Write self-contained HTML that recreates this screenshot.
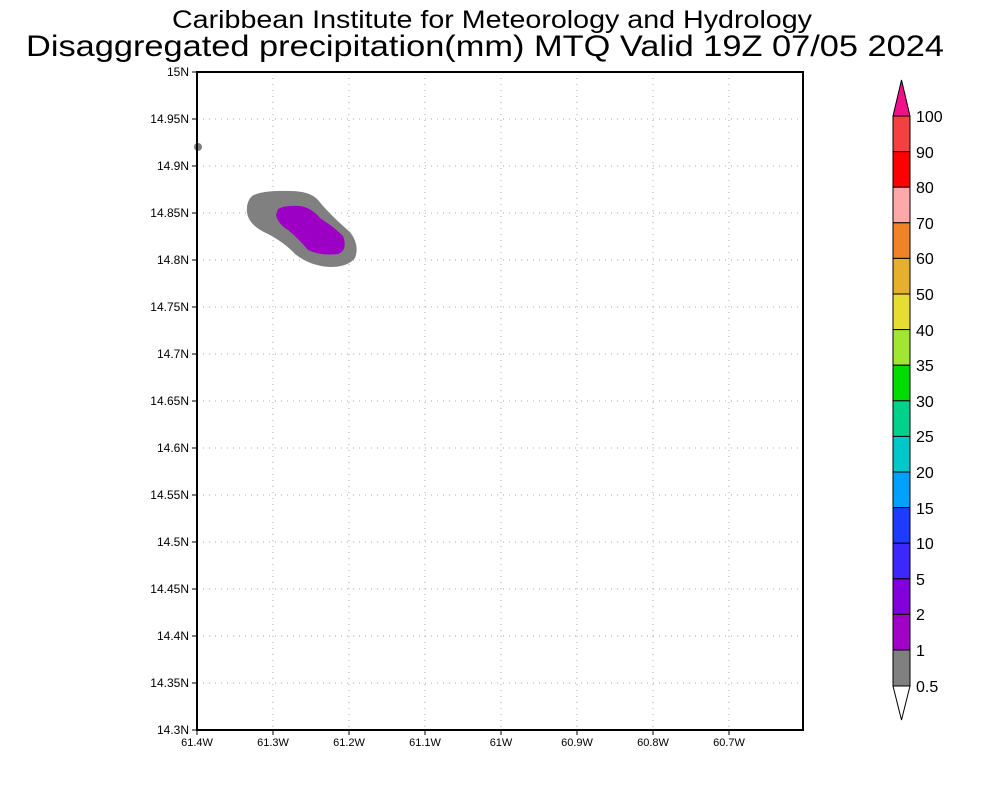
<!DOCTYPE html>
<html><head><style>body{margin:0;background:#fff}svg{display:block}</style></head><body>
<svg width="1000" height="800" xmlns="http://www.w3.org/2000/svg" font-family="Liberation Sans, sans-serif">
<rect width="1000" height="800" fill="#fff"/>
<text x="492" y="28" font-size="25" text-anchor="middle" textLength="640" lengthAdjust="spacingAndGlyphs">Caribbean Institute for Meteorology and Hydrology</text>
<text x="485" y="56" font-size="30" text-anchor="middle" textLength="918" lengthAdjust="spacingAndGlyphs">Disaggregated precipitation(mm) MTQ Valid 19Z 07/05 2024</text>
<!-- grid -->
<g stroke="#aaa" stroke-width="1" stroke-dasharray="1,5">
<line x1="273" y1="72" x2="273" y2="730"/><line x1="349" y1="72" x2="349" y2="730"/><line x1="425" y1="72" x2="425" y2="730"/><line x1="501" y1="72" x2="501" y2="730"/><line x1="577" y1="72" x2="577" y2="730"/><line x1="653" y1="72" x2="653" y2="730"/><line x1="729" y1="72" x2="729" y2="730"/>
<line x1="197" y1="119" x2="803" y2="119"/><line x1="197" y1="166" x2="803" y2="166"/><line x1="197" y1="213" x2="803" y2="213"/><line x1="197" y1="260" x2="803" y2="260"/><line x1="197" y1="307" x2="803" y2="307"/><line x1="197" y1="354" x2="803" y2="354"/><line x1="197" y1="401" x2="803" y2="401"/><line x1="197" y1="448" x2="803" y2="448"/><line x1="197" y1="495" x2="803" y2="495"/><line x1="197" y1="542" x2="803" y2="542"/><line x1="197" y1="589" x2="803" y2="589"/><line x1="197" y1="636" x2="803" y2="636"/><line x1="197" y1="683" x2="803" y2="683"/>
</g>
<!-- blobs -->
<circle cx="198" cy="147" r="4" fill="#808080"/>
<path d="M252,196 Q262,190 290,191 Q310,191 318,200 Q330,215 350,232 Q360,245 355,258 Q348,267 330,267 Q310,266 295,254 Q285,243 268,234 Q248,225 247,212 Q246,202 252,196 Z" fill="#808080"/>
<path d="M278,209 Q285,205 300,206 Q312,208 320,218 Q335,228 343,236 Q348,250 338,254 Q320,256 308,250 Q298,238 288,230 Q278,224 276,215 Z" fill="#9d00c4"/>
<rect x="197" y="72" width="606" height="658" fill="none" stroke="#000" stroke-width="2"/>
<g stroke="#000" stroke-width="1">
<line x1="192" y1="72" x2="197" y2="72"/><line x1="192" y1="119" x2="197" y2="119"/><line x1="192" y1="166" x2="197" y2="166"/><line x1="192" y1="213" x2="197" y2="213"/><line x1="192" y1="260" x2="197" y2="260"/><line x1="192" y1="307" x2="197" y2="307"/><line x1="192" y1="354" x2="197" y2="354"/><line x1="192" y1="401" x2="197" y2="401"/><line x1="192" y1="448" x2="197" y2="448"/><line x1="192" y1="495" x2="197" y2="495"/><line x1="192" y1="542" x2="197" y2="542"/><line x1="192" y1="589" x2="197" y2="589"/><line x1="192" y1="636" x2="197" y2="636"/><line x1="192" y1="683" x2="197" y2="683"/><line x1="192" y1="730" x2="197" y2="730"/>
<line x1="197" y1="730" x2="197" y2="735"/><line x1="273" y1="730" x2="273" y2="735"/><line x1="349" y1="730" x2="349" y2="735"/><line x1="425" y1="730" x2="425" y2="735"/><line x1="501" y1="730" x2="501" y2="735"/><line x1="577" y1="730" x2="577" y2="735"/><line x1="653" y1="730" x2="653" y2="735"/><line x1="729" y1="730" x2="729" y2="735"/>
</g>
<g font-size="12" text-anchor="end">
<text x="189" y="76">15N</text><text x="189" y="123">14.95N</text><text x="189" y="170">14.9N</text><text x="189" y="217">14.85N</text><text x="189" y="264">14.8N</text><text x="189" y="311">14.75N</text><text x="189" y="358">14.7N</text><text x="189" y="405">14.65N</text><text x="189" y="452">14.6N</text><text x="189" y="499">14.55N</text><text x="189" y="546">14.5N</text><text x="189" y="593">14.45N</text><text x="189" y="640">14.4N</text><text x="189" y="687">14.35N</text><text x="189" y="734">14.3N</text>
</g>
<g font-size="11" text-anchor="middle">
<text x="197" y="746">61.4W</text><text x="273" y="746">61.3W</text><text x="349" y="746">61.2W</text><text x="425" y="746">61.1W</text><text x="501" y="746">61W</text><text x="577" y="746">60.9W</text><text x="653" y="746">60.8W</text><text x="729" y="746">60.7W</text>
</g>
<!-- colorbar -->
<g stroke="#000" stroke-width="1">
<polygon points="893,116 901.5,80 910,116" fill="#f0108c"/>
<rect x="893" y="116" width="17" height="35.6" fill="#f44040"/>
<rect x="893" y="151.6" width="17" height="35.6" fill="#ff0000"/>
<rect x="893" y="187.2" width="17" height="35.6" fill="#ffa8a8"/>
<rect x="893" y="222.8" width="17" height="35.6" fill="#f08228"/>
<rect x="893" y="258.4" width="17" height="35.6" fill="#e6af2d"/>
<rect x="893" y="294" width="17" height="35.6" fill="#e6dc32"/>
<rect x="893" y="329.6" width="17" height="35.6" fill="#a0e632"/>
<rect x="893" y="365.2" width="17" height="35.6" fill="#00dc00"/>
<rect x="893" y="400.8" width="17" height="35.6" fill="#00d28c"/>
<rect x="893" y="436.4" width="17" height="35.6" fill="#00c8c8"/>
<rect x="893" y="472" width="17" height="35.6" fill="#00a0ff"/>
<rect x="893" y="507.6" width="17" height="35.6" fill="#1e3cff"/>
<rect x="893" y="543.2" width="17" height="35.6" fill="#3c28ff"/>
<rect x="893" y="578.8" width="17" height="35.6" fill="#8200dc"/>
<rect x="893" y="614.4" width="17" height="35.6" fill="#a000c8"/>
<rect x="893" y="650" width="17" height="36" fill="#808080"/>
<polygon points="893,686 901.5,720 910,686" fill="#fff"/>
</g>
<g font-size="16">
<text x="916" y="122">100</text><text x="916" y="158">90</text><text x="916" y="193">80</text><text x="916" y="229">70</text><text x="916" y="264">60</text><text x="916" y="300">50</text><text x="916" y="336">40</text><text x="916" y="371">35</text><text x="916" y="407">30</text><text x="916" y="442">25</text><text x="916" y="478">20</text><text x="916" y="514">15</text><text x="916" y="549">10</text><text x="916" y="585">5</text><text x="916" y="620">2</text><text x="916" y="656">1</text><text x="916" y="692">0.5</text>
</g>
</svg>
</body></html>
